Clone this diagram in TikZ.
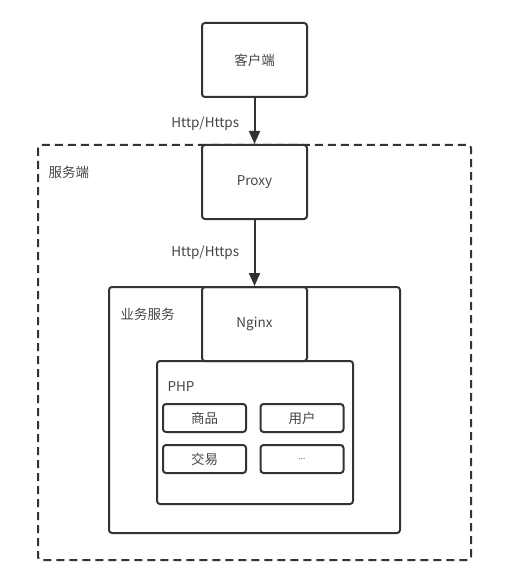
\documentclass[tikz,border=0pt]{standalone}
\usepackage{fontspec}
\setmainfont{Noto Sans CJK SC}
\usepackage{tikz}
\usetikzlibrary{arrows.meta}
\definecolor{linegray}{rgb}{0.2,0.2,0.2}
\definecolor{textgray}{rgb}{0.27,0.27,0.27}

\begin{document}
\begin{tikzpicture}[
  x=1pt,y=-1pt,
  every node/.style={font={\fontsize{13.5}{16}\selectfont},text=textgray},
  box/.style={draw=linegray,line width=2pt,rounded corners=3pt,
    minimum width=105pt,minimum height=74pt,inner sep=0pt},
  small/.style={box,minimum width=83pt,minimum height=28pt},
  frame/.style={draw=linegray,line width=2pt,rounded corners=3pt},
  link/.style={draw=linegray,line width=2pt,
    -{Triangle[length=13pt,width=11pt]}},
  ]
  \useasboundingbox (0,0) rectangle (507,580);
  % Server side (dashed)
  \draw[frame,dash pattern=on 8pt off 5pt] (38,145) rectangle (471,560);
  \node[anchor=west] (server) at (45,172) {服务端};
  % Business services
  \draw[frame] (109,287) rectangle (400,533);
  \node[anchor=west] (biz) at (117,314) {业务服务};
  % PHP
  \draw[frame] (157,361) rectangle (353,504);
  \node[anchor=west] (php) at (164,387) {PHP};
  % Boxes
  \node[box] (client) at (254.5,60) {客户端};
  \node[box] (proxy) at (254.5,182) {Proxy};
  \node[box] (nginx) at (254.5,324) {Nginx};
  \node[small] (goods) at (204.5,418) {商品};
  \node[small] (user) at (302,418) {用户};
  \node[small] (trade) at (204.5,459) {交易};
  \node[small] (more) at (302,459) {\fontsize{8}{10}\selectfont ...};
  % Requests
  \draw[link] (client) -- (proxy)
    node[midway,left=11pt,yshift=-3pt] (http1) {Http/Https};
  \draw[link] (proxy) -- (nginx.north)
    node[midway,left=11pt] (http2) {Http/Https};
\end{tikzpicture}
\end{document}
